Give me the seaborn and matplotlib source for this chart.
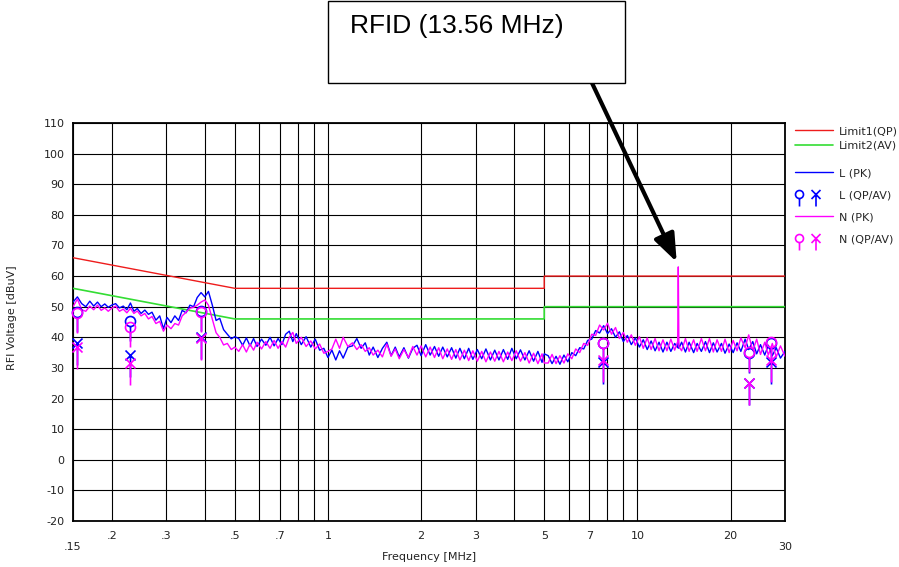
import matplotlib
matplotlib.use("Agg")
import matplotlib.pyplot as plt
import seaborn as sns
import pandas as pd
from matplotlib.path import Path
from matplotlib.lines import Line2D
from matplotlib.patches import Rectangle

# ---------------- data ----------------
freq = [0.150, 0.155, 0.160, 0.165, 0.170, 0.175, 0.180, 0.185, 0.190, 0.195,
        0.200, 0.206, 0.212, 0.218, 0.224, 0.230, 0.236, 0.242, 0.249, 0.256,
        0.263, 0.270, 0.278, 0.286, 0.294, 0.302, 0.311, 0.320, 0.329, 0.338,
        0.348, 0.358, 0.368, 0.378, 0.389, 0.400, 0.411, 0.423, 0.435, 0.447,
        0.460, 0.473, 0.487, 0.500,
        0.515, 0.530, 0.545, 0.560, 0.575, 0.590, 0.610, 0.630, 0.650, 0.670,
        0.690, 0.710, 0.730, 0.750, 0.770, 0.790, 0.820, 0.850, 0.880, 0.910,
        0.940, 0.970, 1.000,
        1.03, 1.06, 1.09, 1.12, 1.16, 1.20, 1.24, 1.28, 1.32, 1.36,
        1.40, 1.45, 1.50, 1.55, 1.60, 1.65, 1.70, 1.76, 1.82, 1.88,
        1.94, 2.00, 2.07, 2.14, 2.21, 2.28, 2.35, 2.43, 2.51, 2.59,
        2.67, 2.76, 2.85, 2.94, 3.04, 3.14, 3.24, 3.35, 3.46, 3.57,
        3.69, 3.81, 3.93, 4.06, 4.19, 4.33, 4.47, 4.62, 4.77, 4.92,
        5.00,
        5.15, 5.30, 5.46, 5.62, 5.79, 5.96, 6.14, 6.32, 6.51, 6.71,
        6.91, 7.12, 7.33, 7.55, 7.78, 8.01, 8.25, 8.50, 8.75, 9.01,
        9.28, 9.56, 9.85, 10.15, 10.45, 10.76, 11.08, 11.41, 11.75, 12.10,
        12.46, 12.83, 13.20, 13.50, 13.56, 13.62, 13.90, 14.30, 14.70, 15.20,
        15.60, 16.10, 16.60, 17.10, 17.60, 18.10, 18.70, 19.20, 19.80, 20.40,
        21.00, 21.60, 22.30, 22.90, 23.60, 24.30, 25.00, 25.80, 26.50, 27.30,
        28.10, 29.00, 30.00]

l_pk = [51.5, 53.2, 51.0, 50.0, 51.8, 50.2, 51.5, 50.0, 50.9, 49.8,
        50.5, 51.0, 49.6, 50.2, 49.0, 51.2, 48.5, 49.4, 47.8, 48.9,
        47.5, 48.2, 45.6, 47.0, 42.8, 46.5, 44.8, 47.0, 45.5, 48.8,
        48.0, 50.5, 50.0, 53.0, 54.6, 53.2, 55.0, 50.5, 45.5, 46.2,
        42.5, 41.0, 39.5, 40.2,
        39.6, 37.4, 39.8, 37.2, 39.6, 37.0, 39.4, 37.4, 40.0, 37.2,
        39.6, 37.6, 41.0, 42.0, 38.6, 41.2, 37.6, 40.2, 36.8, 39.4,
        35.8, 36.4, 33.4,
        35.8, 32.6, 35.6, 33.2, 36.8, 37.2, 39.6, 36.4, 38.2, 34.2,
        36.8, 33.4, 36.4, 38.4, 34.0, 36.8, 33.6, 36.6, 33.2, 36.4,
        37.4, 34.0, 37.6, 34.2, 37.0, 33.8, 36.8, 33.6, 36.6, 33.2,
        36.4, 33.0, 36.4, 32.8, 36.0, 33.0, 36.2, 32.6, 35.8, 32.6,
        36.0, 32.8, 36.4, 33.0, 35.9, 32.6, 35.6, 32.2, 35.4, 31.8,
        34.6,
        34.0, 31.4, 33.8, 31.2, 34.2, 32.0, 35.0, 34.0, 36.6, 36.2,
        39.0, 39.4, 42.2, 41.4, 43.8, 41.2, 42.8, 40.0, 41.8, 38.6,
        40.6, 37.6, 39.8, 36.8, 39.2, 36.0, 38.8, 35.6, 38.4, 35.2,
        38.4, 35.4, 38.0, 36.6, 38.8, 36.4, 38.4, 35.2, 38.4, 35.0,
        38.0, 35.4, 38.6, 35.0, 38.2, 35.2, 38.0, 34.8, 37.8, 35.0,
        38.2, 35.4, 39.4, 36.0, 38.6, 34.6, 37.6, 34.2, 37.4, 34.0,
        36.6, 33.2, 35.4]

n_pk = [50.0, 52.5, 49.0, 48.5, 50.2, 49.0, 50.5, 48.8, 49.6, 48.5,
        49.5, 50.2, 48.5, 49.2, 48.0, 49.5, 47.8, 48.6, 47.0, 47.8,
        46.0, 46.8, 44.5, 45.2, 42.0, 44.0, 42.8, 44.5, 44.0, 47.0,
        48.2, 49.5, 49.8, 50.5, 51.5, 52.2, 50.5, 46.0, 41.5, 40.0,
        37.5, 38.0, 36.0, 36.8,
        35.4, 37.6, 35.2, 37.8, 35.8, 38.4, 36.2, 38.6, 36.4, 39.0,
        36.4, 38.6, 36.8, 40.0, 41.6, 38.0, 40.0, 37.0, 38.8, 36.2,
        37.8, 34.8, 35.4,
        36.2, 39.4, 36.4, 40.0, 37.0, 38.2, 36.0, 37.6, 35.4, 36.6,
        34.2, 35.8, 33.6, 37.8, 33.8, 36.2, 33.0, 36.0, 33.4, 37.0,
        34.2, 37.2, 33.6, 36.8, 33.4, 36.6, 33.0, 36.2, 32.8, 36.0,
        32.6, 35.8, 32.4, 35.6, 32.2, 35.4, 32.0, 35.2, 32.2, 35.4,
        32.0, 35.2, 32.4, 35.6, 32.2, 35.0, 31.6, 34.8, 31.4, 34.6,
        31.6,
        31.6, 34.4, 31.4, 34.0, 31.6, 34.6, 33.0, 36.2, 35.0, 38.0,
        37.4, 41.0, 40.6, 44.0, 42.4, 44.6, 41.0, 43.2, 39.6, 41.6,
        38.4, 40.8, 37.4, 40.2, 36.4, 39.8, 36.0, 39.6, 35.6, 39.2,
        35.6, 39.4, 35.8, 38.6, 63.0, 37.0, 35.6, 39.6, 35.4, 39.2,
        35.4, 39.6, 35.6, 39.6, 35.2, 39.2, 35.4, 39.4, 35.0, 39.0,
        35.6, 39.8, 36.6, 40.8, 35.6, 39.4, 34.4, 38.4, 34.2, 38.0,
        33.6, 37.2, 33.8]

limit_f = [0.15, 0.5, 5.0, 5.0, 30.0]
limit1_qp = [66, 56, 56, 60, 60]
limit2_av = [56, 46, 46, 50, 50]

mark_f = [0.154, 0.230, 0.389, 7.75, 23.0, 27.0]
l_qp = [48.2, 45.3, 48.7, 38.0, 35.0, 38.0]
n_qp = [48.0, 43.3, 48.2, 38.1, 35.2, 38.5]
l_av = [38.0, 34.2, 40.0, 32.0, 25.0, 32.0]
n_av = [36.8, 31.6, 39.8, 32.5, 25.0, 32.5]

xticks = [0.15, 0.2, 0.3, 0.5, 0.7, 1, 2, 3, 5, 7, 10, 20, 30]
xtick_labels = ["\n.15", ".2", ".3", ".5", ".7", "1", "2", "3", "5", "7", "10", "20", "\n30"]
xgrid_minor = [0.4, 0.6, 0.8, 0.9, 4, 6, 8, 9]
yticks = [-20, -10, 0, 10, 20, 30, 40, 50, 60, 70, 80, 90, 100, 110]

RED = "#ee1c1c"
GREEN = "#33dd33"
BLUE = "#0000ff"
MAG = "#ff00ff"

# ---------------- style ----------------
sns.set_style("white")
plt.rcParams["font.family"] = ["DejaVu Sans"]
plt.rcParams["font.size"] = 8

W, H = 899, 567
fig = plt.figure(figsize=(W / 100, H / 100), dpi=100)
ax = fig.add_axes([73 / W, (H - 521) / H, (785 - 73) / W, (521 - 123) / H])
ax.set_xscale("log")

traces = pd.DataFrame({"freq": freq, "L": l_pk, "N": n_pk})
limits = pd.DataFrame({"freq": limit_f, "qp": limit1_qp, "av": limit2_av})

sns.lineplot(data=limits, x="freq", y="qp", ax=ax, color=RED, lw=1.0,
             sort=False, estimator=None, zorder=3)
sns.lineplot(data=limits, x="freq", y="av", ax=ax, color=GREEN, lw=1.2,
             sort=False, estimator=None, zorder=3)
sns.lineplot(data=traces, x="freq", y="L", ax=ax, color=BLUE, lw=1.0,
             sort=False, estimator=None, zorder=4)
sns.lineplot(data=traces, x="freq", y="N", ax=ax, color=MAG, lw=1.0,
             sort=False, estimator=None, zorder=5)


# ---------------- custom markers ----------------
def circle_stem(r, stem, cx=0.0):
    circ = Path.circle((cx, 0), r)
    line = Path([(cx, -r), (cx, -r - stem)], [Path.MOVETO, Path.LINETO])
    return [circ, line]


def x_stem(h, stem, cx=0.0):
    verts = [(cx - h, -h), (cx + h, h), (cx - h, h), (cx + h, -h), (cx, 0), (cx, -stem)]
    codes = [Path.MOVETO, Path.LINETO] * 3
    return [Path(verts, codes)]


circ_marker = Path.make_compound_path(*circle_stem(5, 15))
x_marker = Path.make_compound_path(*x_stem(5, 22))
circ_ms = 1.44 * 20
x_ms = 1.44 * 22

for vals, col, mk, ms, z in [(l_qp, BLUE, circ_marker, circ_ms, 6),
                             (l_av, BLUE, x_marker, x_ms, 6),
                             (n_qp, MAG, circ_marker, circ_ms, 7),
                             (n_av, MAG, x_marker, x_ms, 7)]:
    ax.plot(mark_f, vals, ls="none", marker=mk, ms=ms, mfc="none",
            mec=col, mew=1.2, zorder=z, clip_on=False)

# ---------------- axes ----------------
ax.set_xlim(0.15, 30)
ax.set_ylim(-20, 110)
ax.set_xticks(xticks)
ax.set_xticklabels(xtick_labels)
ax.set_xticks(xgrid_minor, minor=True)
ax.xaxis.set_minor_formatter(plt.NullFormatter())
ax.set_yticks(yticks)
ax.set_yticklabels([str(v) for v in yticks])
ax.tick_params(axis="both", which="both", length=0, labelsize=8, colors="#222222")
ax.tick_params(axis="x", pad=7)
ax.tick_params(axis="y", pad=6)
ax.grid(True, which="both", color="black", lw=0.8)
for sp in ax.spines.values():
    sp.set_color("black")
    sp.set_linewidth(1.3)

ax.set_xlabel("Frequency [MHz]", fontsize=8, color="#222222")
ax.set_ylabel("RFI Voltage [dBuV]", fontsize=8, color="#222222")
ax.xaxis.set_label_coords(0.5, -0.078)
ax.yaxis.set_label_coords(-0.079, 0.51)

# ---------------- legends ----------------
leg1 = fig.legend(
    handles=[Line2D([], [], color=RED, lw=1.0), Line2D([], [], color=GREEN, lw=1.2)],
    labels=["Limit1(QP)", "Limit2(AV)"],
    loc="upper left", bbox_to_anchor=(795 / W, 1 - 126 / H), frameon=False,
    fontsize=8, handlelength=3.4, handletextpad=0.55, labelspacing=0.45,
    borderpad=0, borderaxespad=0)

leg_marker = Path.make_compound_path(*circle_stem(4, 8, cx=-15), *x_stem(4.5, 12, cx=1.5))
leg_ms = 1.44 * 19
leg2 = fig.legend(
    handles=[Line2D([], [], color=BLUE, lw=1.0),
             Line2D([], [], ls="none", marker=leg_marker, ms=leg_ms, mfc="none", mec=BLUE, mew=1.2),
             Line2D([], [], color=MAG, lw=1.0),
             Line2D([], [], ls="none", marker=leg_marker, ms=leg_ms, mfc="none", mec=MAG, mew=1.2)],
    labels=["L (PK)", "L (QP/AV)", "N (PK)", "N (QP/AV)"],
    loc="upper left", bbox_to_anchor=(795 / W, 1 - 168 / H), frameon=False,
    fontsize=8, handlelength=3.4, handletextpad=0.55, labelspacing=1.09,
    borderpad=0, borderaxespad=0)

# ---------------- annotation ----------------
fig.patches.append(Rectangle((328, H - 83), 297, 82.5, transform=None,
                             facecolor="white", edgecolor="black", lw=1.0, zorder=10))
fig.text(350 / W, 1 - 33 / H, "RFID (13.56 MHz)", fontsize=19, color="black",
         family=["Liberation Sans", "DejaVu Sans"], va="baseline", ha="left", zorder=11)
ax.annotate("", xy=(13.4, 64.6), xycoords="data",
            xytext=(592 / W, 1 - 83 / H), textcoords="figure fraction",
            arrowprops=dict(arrowstyle="-|>,head_length=1.3,head_width=0.5",
                            color="black", lw=3.0, shrinkA=0, shrinkB=0,
                            mutation_scale=13),
            annotation_clip=False, zorder=12)

fig.savefig("out.png", dpi=100)
